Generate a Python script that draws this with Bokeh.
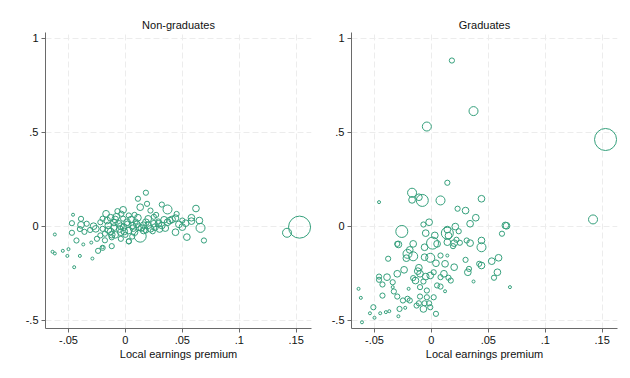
from bokeh.plotting import figure
from bokeh.layouts import row
from bokeh.models import FixedTicker, Range1d, ColumnDataSource
from bokeh.embed import file_html
from bokeh.resources import INLINE
import numpy as np

# ---------------- data ----------------
x_ticks = [-0.05, 0, 0.05, 0.1, 0.15]
x_tick_labels = ["-.05", "0", ".05", ".1", ".15"]
y_ticks = [-0.5, 0, 0.5, 1]
y_tick_labels = ["-.5", "0", ".5", "1"]
panel_titles = ["Non-graduates", "Graduates"]
x_label = "Local earnings premium"

# Non-graduates: local earnings premium, outcome, weight
ng_x = [0.018, 0.011, 0.019, 0.013, 0.032, 0.037, 0.022, 0.062, -0.017, -0.002,
        -0.007, -0.046, -0.039, -0.047, -0.039, -0.034, -0.047, -0.062, -0.043, -0.037,
        -0.030, -0.064, -0.062, -0.055, -0.050, -0.051, -0.040, -0.029, -0.045, -0.024,
        -0.020, -0.012, 0.003, 0.013, 0.044, 0.054, 0.066, 0.069, 0.053, 0.058,
        0.065, 0.044, 0.039, 0.034, 0.029, 0.024, 0.018, 0.153, 0.142,
        -0.0035, 0.003, -0.009, -0.022, -0.026, -0.020, -0.015, -0.010, -0.006, -0.0015,
        0.0015, 0.006, 0.009, 0.012, 0.018, 0.020, 0.025, 0.029, 0.032, 0.037,
        0.041, -0.018, -0.013, -0.009, -0.004, 0.000, 0.003, 0.008, 0.016, 0.022,
        0.026, -0.012, -0.022, -0.004, 0.003, -0.020, -0.025,
        -0.028, -0.031, -0.016, -0.008, 0.005, 0.010, -0.005, 0.014, 0.020, -0.012,
        0.006, -0.002, 0.030, 0.047, 0.050, -0.036, -0.040, -0.018, 0.008, 0.025,
        -0.010, -0.004, 0.002, 0.007, 0.016, -0.013, -0.020, 0.035, 0.050, 0.058,
        0.045, 0.027, -0.001, -0.015, 0.011]
ng_y = [0.178, 0.146, 0.119, 0.101, 0.115, 0.089, 0.083, 0.094, 0.066, 0.087,
        0.080, 0.061, 0.039, 0.016, 0.007, 0.013, -0.035, -0.044, -0.076, -0.097,
        -0.087, -0.136, -0.145, -0.131, -0.122, -0.158, -0.158, -0.172, -0.218, -0.131,
        -0.115, -0.106, -0.080, -0.053, -0.032, -0.058, -0.009, -0.076, 0.016, 0.027,
        0.030, 0.043, 0.030, 0.034, 0.013, -0.027, -0.023, -0.005, -0.035,
        0.066, 0.057, 0.036, 0.021, -0.014, -0.014, 0.004, -0.005, 0.013, -0.005,
        0.021, 0.004, 0.025, -0.005, 0.021, 0.039, 0.013, 0.025, 0.004, 0.021,
        0.036, -0.040, -0.028, -0.046, -0.032, -0.046, -0.023, -0.032, -0.023, -0.014,
        -0.005, -0.059, -0.049, -0.067, -0.081, -0.112, -0.067,
        0.000, -0.020, 0.030, 0.050, 0.035, 0.010, -0.015, -0.010, 0.005, -0.045,
        -0.055, 0.040, -0.015, 0.010, 0.030, -0.030, -0.015, -0.075, 0.060, 0.050,
        0.020, 0.000, 0.010, -0.010, 0.005, 0.045, 0.040, -0.010, -0.005, 0.045,
        0.065, 0.060, -0.028, -0.020, 0.045]
ng_w = [3, 3, 3, 5, 3, 9, 3, 5, 5, 5,
        3, 1, 3, 3, 5, 3, 3, 1, 3, 1,
        1, 1, 1, 1, 1, 1, 1, 1, 1, 3,
        3, 3, 3, 16, 5, 5, 9, 3, 5, 5,
        5, 5, 5, 5, 5, 3, 3, 54, 9,
        3, 3, 5, 3, 5, 3, 5, 5, 5, 5,
        5, 5, 3, 5, 5, 5, 5, 3, 5, 5,
        5, 3, 5, 5, 5, 3, 5, 5, 5, 5,
        5, 3, 3, 3, 3, 1, 3,
        5, 3, 5, 5, 5, 5, 5, 5, 5, 5,
        3, 3, 5, 5, 3, 3, 3, 3, 3, 3,
        5, 5, 5, 5, 5, 5, 3, 5, 5, 5,
        3, 3, 5, 5, 5]

# Graduates
gr_x = [0.018, 0.037, -0.004, 0.153, 0.014, -0.046, -0.017, -0.017, -0.011, -0.008,
        0.008, 0.023, 0.030, 0.044, 0.039, 0.034, 0.021, 0.142, 0.024, 0.014,
        0.014, -0.002, -0.007, -0.026, -0.005, 0.003, 0.001, 0.005, 0.014, 0.020,
        0.022, 0.025, 0.019, 0.044, 0.044, 0.062, 0.065, 0.066, -0.006, -0.016,
        -0.029, -0.030, -0.021, -0.016, -0.019, -0.022, -0.006, -0.001, 0.008, 0.014,
        0.004, 0.012, 0.020, -0.038, 0.030, 0.042, 0.044, 0.053, 0.059, 0.033,
        0.032, 0.058, 0.055, 0.037, 0.069, -0.024, -0.030, -0.039, -0.046, -0.046,
        -0.043, -0.034, -0.034, -0.033, -0.016, -0.014, -0.012, -0.011, -0.010, -0.005,
        -0.001, 0.002, 0.008, 0.011, 0.015, 0.017, -0.010, -0.004, -0.007, 0.005,
        0.008, 0.012, -0.064, -0.062, -0.043, -0.030, -0.025, -0.021, -0.019, -0.010,
        -0.004, 0.002, -0.006, -0.002, -0.011, -0.013, -0.007, -0.023, -0.028, -0.029,
        -0.037, -0.040, -0.045, -0.051, -0.054, -0.050, -0.061, 0.004, -0.001, -0.020,
        0.031, 0.034, 0.015]
gr_y = [0.881, 0.612, 0.530, 0.461, 0.231, 0.128, 0.178, 0.140, 0.154, 0.137,
        0.137, 0.093, 0.083, 0.146, 0.045, 0.013, -0.002, 0.036, -0.027, -0.037,
        -0.018, 0.021, 0.009, -0.028, -0.037, -0.049, -0.090, -0.094, -0.085, -0.090,
        -0.072, -0.088, -0.106, -0.076, -0.112, -0.040, 0.004, 0.002, -0.112, -0.094,
        -0.097, -0.094, -0.147, -0.160, -0.126, -0.170, -0.165, -0.168, -0.156, -0.156,
        -0.197, -0.200, -0.218, -0.173, -0.179, -0.200, -0.209, -0.186, -0.168, -0.227,
        -0.245, -0.245, -0.274, -0.294, -0.324, -0.232, -0.253, -0.271, -0.268, -0.285,
        -0.310, -0.298, -0.324, -0.347, -0.276, -0.289, -0.239, -0.221, -0.253, -0.268,
        -0.262, -0.245, -0.271, -0.253, -0.274, -0.289, -0.324, -0.342, -0.294, -0.315,
        -0.321, -0.346, -0.333, -0.381, -0.369, -0.374, -0.395, -0.386, -0.395, -0.374,
        -0.378, -0.378, -0.410, -0.410, -0.410, -0.422, -0.440, -0.434, -0.440, -0.479,
        -0.452, -0.457, -0.463, -0.431, -0.463, -0.487, -0.511, -0.466, -0.431, -0.333,
        -0.076, -0.090, -0.050]
gr_w = [3, 9, 9, 54, 3, 1, 9, 5, 5, 16,
        9, 3, 5, 5, 5, 5, 5, 9, 3, 16,
        5, 5, 3, 16, 5, 5, 16, 5, 5, 5,
        3, 3, 3, 5, 9, 3, 5, 5, 5, 5,
        5, 3, 9, 9, 5, 5, 5, 9, 3, 1,
        5, 5, 5, 3, 3, 3, 5, 5, 5, 3,
        5, 5, 3, 1, 1, 5, 5, 5, 3, 3,
        3, 3, 1, 3, 3, 5, 5, 5, 5, 5,
        5, 3, 3, 5, 3, 3, 3, 3, 3, 3,
        3, 1, 1, 1, 3, 3, 3, 3, 3, 3,
        3, 3, 3, 3, 3, 3, 5, 1, 3, 1,
        1, 1, 1, 3, 1, 1, 1, 3, 3, 1,
        3, 5, 5]

# ---------------- style ----------------
COLOR = "#35a07c"
FONT = "Liberation Sans"
GRID = "#ececec"
AXIS = "#6a6a6a"


def make_panel(title, xs, ys, ws, width, border_left, border_right):
    p = figure(width=width, height=370, output_backend="svg", toolbar_location=None,
               x_range=Range1d(-0.0702, 0.1635), y_range=Range1d(-0.544, 1.03),
               min_border_left=border_left, min_border_right=border_right,
               min_border_top=32, min_border_bottom=42)
    p.title.text = title
    p.title.align = "center"
    p.title.offset = -4
    p.title.text_font = FONT
    p.title.text_font_size = "11px"
    p.title.text_font_style = "normal"
    p.title.text_color = "#111111"
    p.title.standoff = 3
    p.outline_line_color = None
    p.background_fill_color = "white"
    p.border_fill_color = "white"

    src = ColumnDataSource(dict(x=xs, y=ys, s=[3.0 * np.sqrt(w) for w in ws]))
    p.scatter("x", "y", size="s", source=src, marker="circle",
              fill_color=None, line_color=COLOR, line_width=1)

    p.xaxis.ticker = FixedTicker(ticks=x_ticks)
    p.xaxis.major_label_overrides = {t: l for t, l in zip(x_ticks, x_tick_labels)}
    p.yaxis.ticker = FixedTicker(ticks=y_ticks)
    p.yaxis.major_label_overrides = {t: l for t, l in zip(y_ticks, y_tick_labels)}
    p.xaxis.axis_label = x_label
    for ax in (p.xaxis, p.yaxis):
        ax.axis_line_color = AXIS
        ax.major_tick_line_color = AXIS
        ax.minor_tick_line_color = None
        ax.major_tick_out = 4
        ax.major_tick_in = 0
        ax.major_label_text_font = FONT
        ax.major_label_text_font_size = "11px"
        ax.major_label_text_color = "#111111"
        ax.major_label_standoff = 3
        ax.axis_label_text_font = FONT
        ax.axis_label_text_font_size = "11px"
        ax.axis_label_text_font_style = "normal"
        ax.axis_label_text_color = "#111111"
        ax.axis_label_standoff = 1
    p.xgrid.ticker = FixedTicker(ticks=x_ticks)
    p.ygrid.ticker = FixedTicker(ticks=y_ticks)
    for g in (p.xgrid, p.ygrid):
        g.grid_line_color = GRID
        g.grid_line_dash = "6 3"
        g.grid_line_width = 1
    return p


p1 = make_panel(panel_titles[0], ng_x, ng_y, ng_w, 315, 45, 4)
p2 = make_panel(panel_titles[1], gr_x, gr_y, gr_w, 307, 36, 5)
layout = row(p1, p2)

open("out.html", "w").write(file_html(layout, INLINE))
